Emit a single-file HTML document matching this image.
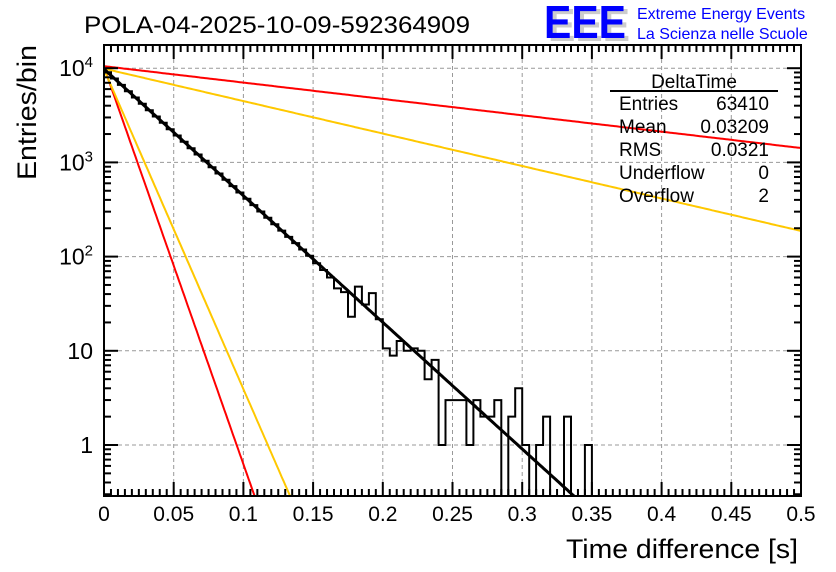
<!DOCTYPE html>
<html><head><meta charset="utf-8"><style>
html,body{margin:0;padding:0;background:#fff;}
svg{display:block;font-family:"Liberation Sans",sans-serif;}
</style></head><body>
<svg id="c" width="836" height="572" viewBox="0 0 836 572">
<defs><clipPath id="clip"><rect x="104" y="45" width="697" height="451"/></clipPath></defs>
<rect x="0" y="0" width="836" height="572" fill="#fff"/>
<text x="84" y="33" font-size="24" textLength="386" lengthAdjust="spacingAndGlyphs">POLA-04-2025-10-09-592364909</text>
<g>
<text x="548" y="41" font-size="46" font-weight="bold" fill="#ccc" textLength="82" lengthAdjust="spacingAndGlyphs">EEE</text>
<text x="544" y="38" font-size="46" font-weight="bold" fill="#0000ff" textLength="82" lengthAdjust="spacingAndGlyphs">EEE</text>
<text x="637" y="19" font-size="16" fill="#0000ff">Extreme Energy Events</text>
<text x="637" y="39" font-size="16" fill="#0000ff">La Scienza nelle Scuole</text>
</g>
<g id="grid"></g>
<g id="marks" clip-path="url(#clip)"></g>
<g id="axes"></g>
<g font-size="19">
<text x="694" y="88" text-anchor="middle">DeltaTime</text>
<line x1="610" y1="91" x2="778" y2="91" stroke="#000" stroke-width="2"/>
<text x="619" y="110">Entries</text><text x="769" y="110" text-anchor="end">63410</text>
<text x="619" y="133">Mean</text><text x="769" y="133" text-anchor="end">0.03209</text>
<text x="619" y="156">RMS</text><text x="769" y="156" text-anchor="end">0.0321</text>
<text x="619" y="179">Underflow</text><text x="769" y="179" text-anchor="end">0</text>
<text x="619" y="202">Overflow</text><text x="769" y="202" text-anchor="end">2</text>
</g>
<text x="798" y="558" font-size="27" text-anchor="end" textLength="232" lengthAdjust="spacingAndGlyphs">Time difference [s]</text>
<text transform="translate(36,180) rotate(-90)" font-size="27" textLength="135" lengthAdjust="spacingAndGlyphs">Entries/bin</text>
</svg>
<script>
const binWidth = 0.005;
const counts = [9070,7770,6656,5701,4884,4184,3584,3070,2630,2253,1930,1653,1416,1213,1039,890,763,653,560,479,411,352,301,258,221,189,162,139,119,102,
85,72,60,46,42,23,48,31,41,21.6,10.6,8.9,12.7,10,10.6,10,5,8,1,3,3,3,1,3,2,2,3,0,2,4,1,0,1,2,0,0,2,0,0,1,
0,0,0,0,0,0,0,0,0,0,0,0,0,0,0,0,0,0,0,0,0,0,0,0,0,0,0,0,0,0];
const fitAmp = 9800, fitTau = 0.0323;
const curveNames = ['red-slow','yellow-slow','red-fast','yellow-fast'];
const curveAmps = [10500, 9900, 10300, 9700];
const curveTaus = [0.25, 0.126, 0.0103, 0.0128];
const curveColors = ['#ff0000','#ffc800','#ff0000','#ffc800'];
const xTicks = [0,0.05,0.1,0.15,0.2,0.25,0.3,0.35,0.4,0.45,0.5];
const xTickLabels = ['0','0.05','0.1','0.15','0.2','0.25','0.3','0.35','0.4','0.45','0.5'];
const yDecades = [0,1,2,3,4];

const X0=104, X1=801, YT=45, YB=496;
const yLog1 = 445, dec = 94.2;
const xs = v => X0 + (v/0.5)*(X1-X0);
const ys = v => v<=0 ? YB+20 : yLog1 - Math.log10(v)*dec;
const NS='http://www.w3.org/2000/svg';
function mk(tag, attrs, parent){const e=document.createElementNS(NS,tag);for(const k in attrs)e.setAttribute(k,attrs[k]);parent.appendChild(e);return e;}
const grid=document.getElementById('grid'), marks=document.getElementById('marks'), axes=document.getElementById('axes');

xTicks.forEach((t,i)=>{ if(i>0&&i<xTicks.length-1){const l=mk('line',{x1:xs(t),y1:YT,x2:xs(t),y2:YB,stroke:'#999','stroke-dasharray':'4,3'},grid);

}});
yDecades.forEach(d=>{const y=ys(Math.pow(10,d));const l=mk('line',{x1:X0,y1:y,x2:X1,y2:y,stroke:'#999','stroke-dasharray':'4,3'},grid);

});

curveNames.forEach((n,ci)=>{let d='';for(let i=0;i<=400;i++){const t=0.5*i/400;const v=curveAmps[ci]*Math.exp(-t/curveTaus[ci]);const y=ys(v);if(y>YB+10){d+=(i?'L':'M')+xs(t).toFixed(1)+','+y.toFixed(1);break;}d+=(i?'L':'M')+xs(t).toFixed(1)+','+y.toFixed(1);}
const p=mk('path',{d:d,fill:'none',stroke:curveColors[ci],'stroke-width':2},marks);

});

let hd='M'+xs(0)+','+ys(counts[0]);
counts.forEach((c,i)=>{const y=ys(c);if(i>0)hd+='L'+xs(i*binWidth).toFixed(1)+','+y.toFixed(1);hd+='L'+xs((i+1)*binWidth).toFixed(1)+','+y.toFixed(1);});
const h=mk('path',{d:hd,fill:'none',stroke:'#000','stroke-width':2},marks);



let fd='';for(let i=0;i<=300;i++){const t=0.36*i/300;fd+=(i?'L':'M')+xs(t).toFixed(1)+','+ys(fitAmp*Math.exp(-t/fitTau)).toFixed(1);}
const f=mk('path',{d:fd,fill:'none',stroke:'#000','stroke-width':3},marks);



const fr=mk('rect',{x:X0,y:YT,width:X1-X0,height:YB-YT,fill:'none',stroke:'#000','stroke-width':2},axes);


for(let i=0;i<=100;i++){const t=i*0.005;const x=xs(t);const len=(i%10==0)?14:7;
mk('line',{x1:x,y1:YB,x2:x,y2:YB-len,stroke:'#000','stroke-width':2},axes);
mk('line',{x1:x,y1:YT,x2:x,y2:YT+len,stroke:'#000','stroke-width':2},axes);}
xTicks.forEach((t,i)=>{const tx=mk('text',{x:xs(t),y:521,'font-size':21,'text-anchor':'middle'},axes);tx.textContent=xTickLabels[i];

});
for(let d=-1;d<=4;d++){for(let m=1;m<=9;m++){const v=m*Math.pow(10,d);const y=ys(v);if(y<YT||y>YB)continue;const len=m==1?14:7;
mk('line',{x1:X0,y1:y,x2:X0+len,y2:y,stroke:'#000','stroke-width':2},axes);
mk('line',{x1:X1,y1:y,x2:X1-len,y2:y,stroke:'#000','stroke-width':2},axes);}}
yDecades.forEach(d=>{const y=ys(Math.pow(10,d));const g=mk('text',{x:93,y:y+8,'font-size':23,'text-anchor':'end'},axes);


if(d==0)g.textContent='1';else if(d==1)g.textContent='10';else{g.textContent='10';const s=mk('tspan',{'font-size':15,dy:-9},g);s.textContent=String(d);}});
</script>
</body></html>
